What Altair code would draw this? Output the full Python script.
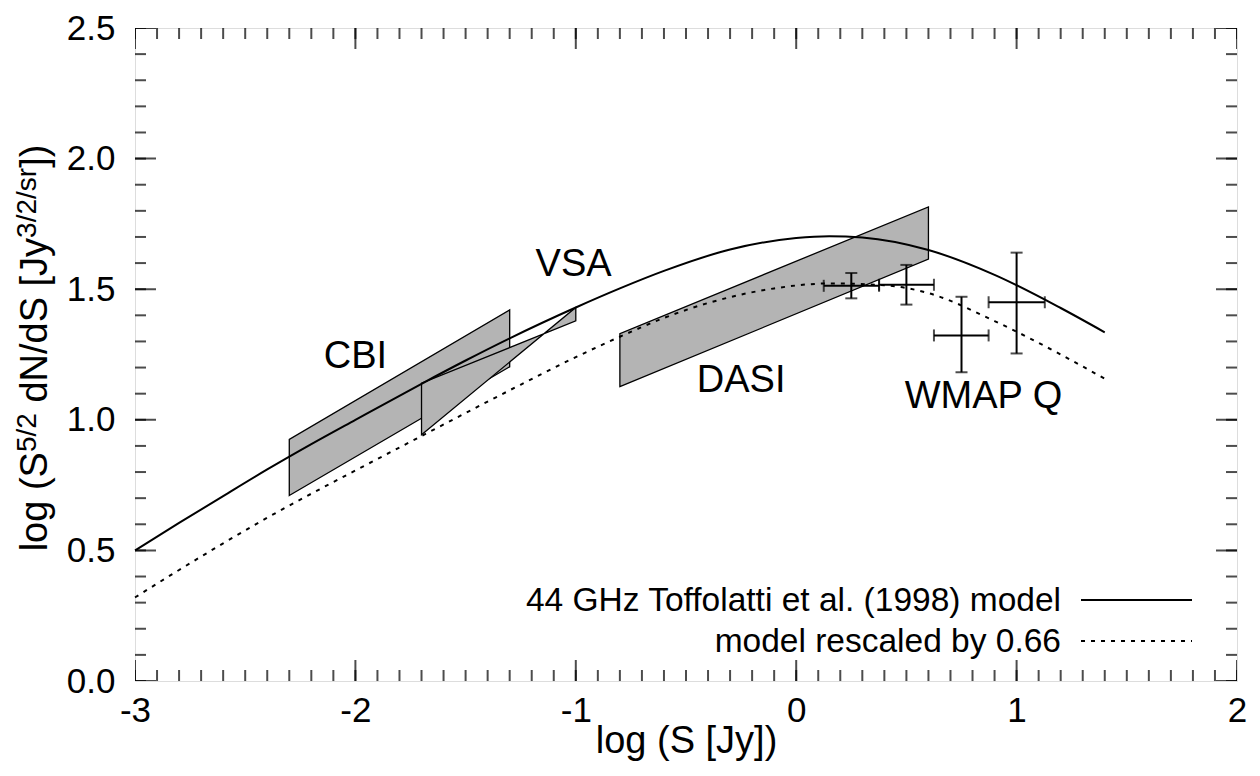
import altair as alt
import pandas as pd

# ---------------- data ----------------
model_x = [-3.0, -2.8, -2.6, -2.4, -2.2, -2.0, -1.7, -1.5, -1.3, -1.0, -0.8, -0.6, -0.3, 0.0, 0.15, 0.3, 0.6, 0.9, 1.2, 1.4]
model_y = [0.50, 0.605, 0.708, 0.81, 0.907, 1.0, 1.138, 1.227, 1.312, 1.43, 1.503, 1.57, 1.652, 1.696, 1.703, 1.698, 1.65, 1.555, 1.428, 1.335]

resc_x = [-3.0, -2.8, -2.6, -2.4, -2.2, -2.0, -1.7, -1.5, -1.3, -1.0, -0.8, -0.6, -0.4, -0.1, 0.15, 0.4, 0.6, 0.9, 1.2, 1.4]
resc_y = [0.32, 0.425, 0.527, 0.625, 0.717, 0.806, 0.938, 1.026, 1.113, 1.24, 1.318, 1.39, 1.447, 1.503, 1.522, 1.515, 1.485, 1.378, 1.25, 1.157]

# shaded regions: x at both ends, lower and upper edge values at those x
cbi_x, cbi_lo, cbi_hi = [-2.3, -1.3], [0.71, 1.203], [0.925, 1.421]
vsa_x, vsa_lo, vsa_hi = [-1.7, -1.0], [0.943, 1.430], [1.140, 1.379]
dasi_x, dasi_lo, dasi_hi = [-0.8, 0.6], [1.127, 1.615], [1.330, 1.815]

# WMAP Q points
wmap_x = [0.25, 0.50, 0.75, 1.00]
wmap_xlo = [0.125, 0.376, 0.625, 0.873]
wmap_xhi = [0.376, 0.625, 0.873, 1.128]
wmap_y = [1.513, 1.517, 1.323, 1.450]
wmap_ylo = [1.465, 1.441, 1.182, 1.254]
wmap_yhi = [1.562, 1.593, 1.471, 1.640]

# labels
lab_text = ["CBI", "VSA", "DASI", "WMAP Q"]
lab_x = [-2.0, -1.01, -0.25, 0.85]
lab_y = [1.197, 1.551, 1.108, 1.045]

legend_text = ["44 GHz Toffolatti et al. (1998) model", "model rescaled by 0.66"]

x_major = [-3, -2, -1, 0, 1, 2]
y_major = [0.0, 0.5, 1.0, 1.5, 2.0, 2.5]
x_minor = [round(-3 + i * 0.1, 1) for i in range(51)]
y_minor = [round(i * 0.1, 1) for i in range(26)]

# ---------------- layout / style ----------------
W, H = 1102, 653
PAD_TOP = 20
FONT = "Liberation Sans"
TICK_FS = 35
TITLE_FS = 38
LAB_FS = 38
LEG_FS = 33.5

xs = alt.Scale(domain=[-3, 2], nice=False, zero=False)
ys = alt.Scale(domain=[0, 2.5], nice=False, zero=False)

xaxis = alt.Axis(values=x_major, labelExpr="'' + datum.value", ticks=False, tickSize=0,
                 domain=False, grid=False, labelFontSize=TICK_FS, labelPadding=12,
                 labelFont=FONT, labelColor="black", labelFlush=False,
                 title="log (S [Jy])", titleFont=FONT, titleFontSize=TITLE_FS,
                 titleFontWeight="normal", titleColor="black",
                 titleY=41, titleBaseline="top")
yaxis = alt.Axis(values=y_major, format=".1f", ticks=False, tickSize=0, domain=False,
                 grid=False, labelFontSize=TICK_FS, labelPadding=20, labelFont=FONT,
                 labelColor="black", labelFlush=False, title="")

X = lambda f: alt.X(f, scale=xs, axis=xaxis)
Y = lambda f: alt.Y(f, scale=ys, axis=yaxis)


def box(xv, lo, hi):
    df = pd.DataFrame({"x": xv, "lo": lo, "hi": hi})
    return alt.Chart(df).mark_area(
        fill="#b4b4b4", stroke="black", strokeWidth=1.3, interpolate="linear", fillOpacity=1
    ).encode(x=X("x:Q"), y=Y("lo:Q"), y2="hi:Q")


boxes = [box(cbi_x, cbi_lo, cbi_hi), box(vsa_x, vsa_lo, vsa_hi), box(dasi_x, dasi_lo, dasi_hi)]

model_line = alt.Chart(pd.DataFrame({"x": model_x, "y": model_y})).mark_line(
    color="black", strokeWidth=2, interpolate="monotone"
).encode(x=X("x:Q"), y=Y("y:Q"))

resc_line = alt.Chart(pd.DataFrame({"x": resc_x, "y": resc_y})).mark_line(
    color="black", strokeWidth=2, interpolate="monotone", strokeDash=[4, 6]
).encode(x=X("x:Q"), y=Y("y:Q"))

wmap_df = pd.DataFrame({"x": wmap_x, "xlo": wmap_xlo, "xhi": wmap_xhi,
                        "y": wmap_y, "ylo": wmap_ylo, "yhi": wmap_yhi})
vbars = alt.Chart(wmap_df).mark_rule(color="black", strokeWidth=2).encode(
    x=X("x:Q"), y=Y("ylo:Q"), y2="yhi:Q")
hbars = alt.Chart(wmap_df).mark_rule(color="black", strokeWidth=2).encode(
    x=X("xlo:Q"), x2="xhi:Q", y=Y("y:Q"))

cap_v = pd.DataFrame({"x": wmap_x + wmap_x, "y": wmap_ylo + wmap_yhi})
cap_h = pd.DataFrame({"x": wmap_xlo + wmap_xhi, "y": wmap_y + wmap_y})
vcaps = alt.Chart(cap_v).mark_tick(color="black", orient="horizontal", size=12, thickness=2).encode(
    x=X("x:Q"), y=Y("y:Q"))
hcaps = alt.Chart(cap_h).mark_tick(color="black", orient="vertical", size=12, thickness=2).encode(
    x=X("x:Q"), y=Y("y:Q"))

labels = alt.Chart(pd.DataFrame({"t": lab_text, "x": lab_x, "y": lab_y})).mark_text(
    font=FONT, fontSize=LAB_FS, align="center", baseline="alphabetic", color="black"
).encode(x=X("x:Q"), y=Y("y:Q"), text="t:N")


# inward tick marks on all four sides (clipped to the frame)
def xticks(vals, size, ypix):
    return alt.Chart(pd.DataFrame({"v": vals})).mark_tick(
        color="black", orient="vertical", size=size, thickness=2, clip=True
    ).encode(x=X("v:Q"), y=alt.value(ypix))


def yticks(vals, size, xpix):
    return alt.Chart(pd.DataFrame({"v": vals})).mark_tick(
        color="black", orient="horizontal", size=size, thickness=2, clip=True
    ).encode(y=Y("v:Q"), x=alt.value(xpix))


tick_layers = [
    xticks(x_minor, 22, H), xticks(x_minor, 22, 0),
    xticks(x_major, 42, H), xticks(x_major, 42, 0),
    yticks(y_minor, 22, 0), yticks(y_minor, 22, W),
    yticks(y_major, 42, 0), yticks(y_major, 42, W),
]

# legend (text to the left of the line sample, as in the reference)
LEG_TX, LEG_X0, LEG_X1 = 926, 946, 1057
LEG_Y = [572, 613]
legend_layers = []
for i, (txt, dash) in enumerate(zip(legend_text, [[1, 0], [4, 6]])):
    legend_layers.append(
        alt.Chart(pd.DataFrame({"t": [txt]})).mark_text(
            font=FONT, fontSize=LEG_FS, align="right", baseline="middle", color="black"
        ).encode(x=alt.value(LEG_TX), y=alt.value(LEG_Y[i] + 1), text="t:N"))
    legend_layers.append(
        alt.Chart(pd.DataFrame({"t": [txt]})).mark_rule(
            color="black", strokeWidth=2, strokeDash=dash
        ).encode(x=alt.value(LEG_X0), x2=alt.value(LEG_X1), y=alt.value(LEG_Y[i])))

# rotated y-axis title with superscripts (pieces laid end to end)
ARIAL = {' ': 278, '(': 333, ')': 333, '/': 278, '[': 278, ']': 278, '2': 556,
         '3': 556, '5': 556, 'J': 500, 'N': 722, 'S': 667, 'd': 556, 'g': 556, 'l': 222,
         'o': 556, 'r': 333, 's': 500, 'y': 500}
SUP = 28
RISE = 11
# (text, font size, rise, leading gap in em units of that piece)
pieces = [("log (S", TITLE_FS, 0, 0), ("5/2", SUP, RISE, 0), ("dN/dS [Jy", TITLE_FS, 0, 278),
          ("3/2/sr", SUP, RISE, 0), ("])", TITLE_FS, 0, 0)]
widths = [(sum(ARIAL[c] for c in t) + gap) * fs / 1000 for t, fs, _, gap in pieces]
total = sum(widths)
BASE_X = -88
pos = 320 + total / 2
title_layers = []
for (t, fs, rise, gap), w in zip(pieces, widths):
    start = pos - gap * fs / 1000
    title_layers.append(
        alt.Chart(pd.DataFrame({"t": [t]})).mark_text(
            font=FONT, fontSize=fs, angle=270, align="left", baseline="alphabetic", color="black"
        ).encode(x=alt.value(BASE_X - rise), y=alt.value(start), text="t:N"))
    pos -= w

chart = alt.layer(
    *boxes, model_line, resc_line, vbars, hbars, vcaps, hcaps, labels,
    *tick_layers, *legend_layers, *title_layers
).properties(
    width=W, height=H,
    autosize=alt.AutoSizeParams(type="none"),
    padding={"left": 127, "top": PAD_TOP, "right": 15, "bottom": 87},
    background="white",
).configure_view(stroke="black", strokeWidth=2).configure(font=FONT)

chart.save("out.html", embed_options={"renderer": "svg", "actions": False})
